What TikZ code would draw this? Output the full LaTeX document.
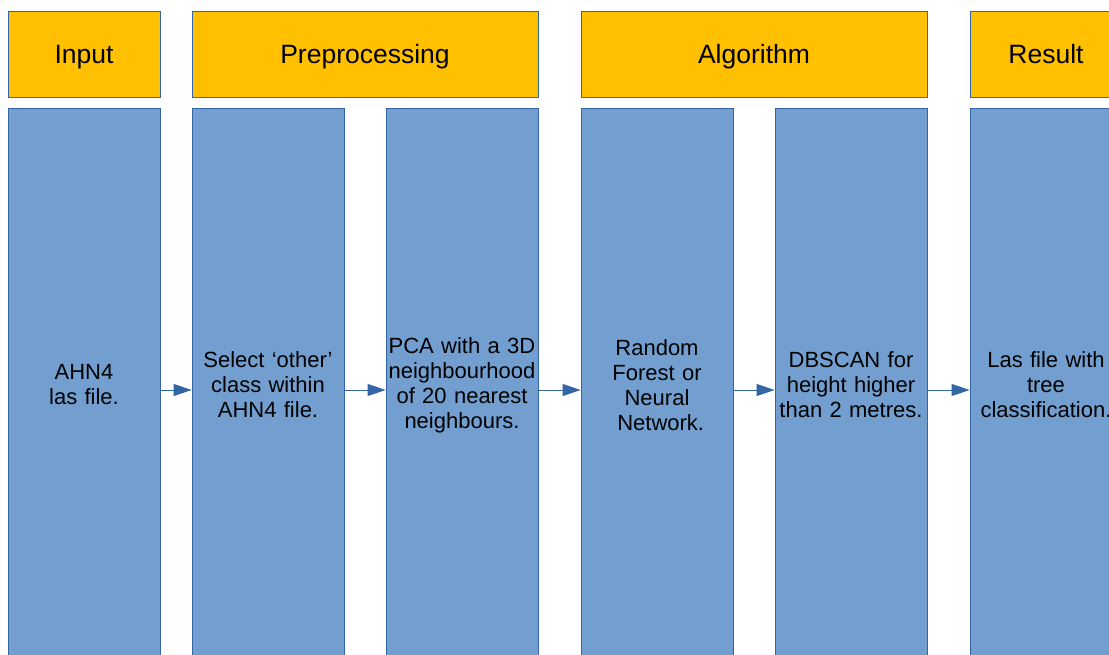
\documentclass[tikz,border=0pt]{standalone}
\usepackage{fontspec}
\setmainfont{Liberation Sans}
\usetikzlibrary{arrows.meta}
\definecolor{hdrfill}{HTML}{FFC000}
\definecolor{boxfill}{HTML}{729FCF}
\definecolor{edge}{HTML}{3465A4}
\tikzset{
  hdr/.style={draw=edge, line width=0.8pt, fill=hdrfill, minimum height=86pt, inner sep=0pt, text height=19pt, text depth=0pt, font=\fontsize{26.5}{30}\selectfont},
  stage/.style={draw=edge, line width=0.8pt, fill=boxfill, minimum width=152pt, text width=152pt, minimum height=554pt, inner sep=0pt, align=center, font=\fontsize{22}{25}\selectfont},
  flow/.style={draw=edge, line width=0.9pt, -{Triangle[length=18pt,width=12pt]}, fill=edge}
}
\begin{document}
\begin{tikzpicture}[x=1pt,y=-1pt]
\useasboundingbox (0,0) rectangle (1109,655);
\clip (0,0) rectangle (1109,655);
\fill[white] (0,0) rectangle (1109,655);
\node[hdr, minimum width=152pt] (hin) at (84,54) {Input};
\node[hdr, minimum width=346pt] (hpre) at (365,54) {Preprocessing};
\node[hdr, minimum width=346pt] (halg) at (754,54) {Algorithm};
\node[hdr, minimum width=152pt] (hres) at (1046,54) {Result};
\node[stage] (b1) at (84,385) {AHN4\\las file.};
\node[stage] (b2) at (268,385) {Select ‘other’\\class within\\AHN4 file.};
\node[stage] (b3) at (462,385) {PCA with a 3D\\neighbourhood\\of 20 nearest\\neighbours.};
\node[stage] (b4) at (657,385) {Random\\Forest or\\Neural\\\ Network.};
\node[stage] (b5) at (851,385) {DBSCAN for\\height higher\\than 2 metres.};
\node[stage] (b6) at (1046,385) {Las file with\\tree\\classification.};
\foreach \a/\b in {b1/b2,b2/b3,b3/b4,b4/b5,b5/b6}
  \draw[flow] ([yshift=-5pt]\a.east) -- ([yshift=-5pt]\b.west);
\end{tikzpicture}
\end{document}
